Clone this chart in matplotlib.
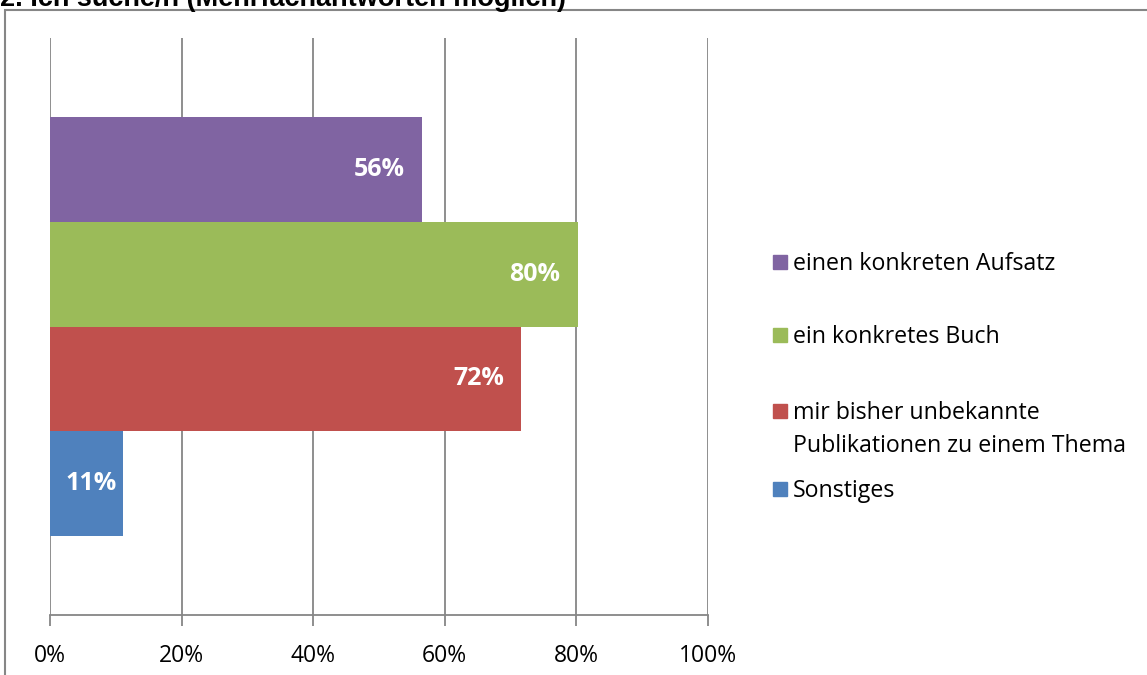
import matplotlib.pyplot as plt
from matplotlib.patches import Rectangle

plt.switch_backend('agg')

# series, top to bottom as drawn
series = ['einen konkreten Aufsatz', 'ein konkretes Buch',
          'mir bisher unbekannte\nPublikationen zu einem Thema', 'Sonstiges']
values = [56.5, 80.2, 71.6, 11.1]
labels = ['56%', '80%', '72%', '11%']
colors = ['#8064A2', '#9BBB59', '#C0504D', '#4F81BD']
ticks = [0, 20, 40, 60, 80, 100]
tick_labels = ['0%', '20%', '40%', '60%', '80%', '100%']

title = '2. Ich suche/n (Mehrfachantworten möglich)'

W, H = 1147, 675
fig = plt.figure(figsize=(W / 100, H / 100), dpi=100)
fig.patch.set_facecolor('white')

# chart area border (runs off right/bottom)
fig.patches.append(Rectangle((5 / W, -0.1), 1.2, 1 - 10 / H + 0.1,
                             transform=fig.transFigure, fill=False,
                             edgecolor='#868686', linewidth=1.5))

# title, cut by the top edge like in the original
fig.text(0, 1 - 6 / H, title, fontsize=19.5, fontweight='bold',
         family='Liberation Sans', va='baseline', ha='left')

ax = fig.add_axes([50 / W, 1 - 615 / H, 658 / W, 577 / H])

n = len(values)
# one category, Excel gap width 150%
ypos = [n / 2 - 0.5 - i for i in range(n)]
ax.barh(ypos, values, height=1.0, color=colors, zorder=3)
ax.set_ylim(-(n / 2) - 0.75, n / 2 + 0.75)
ax.set_xlim(0, 100)

for y, v, lab in zip(ypos, values, labels):
    # short bars get a smaller padding (label barely fits)
    pad = 2.6 if v > 20 else 0.9
    ax.text(v - pad, y, lab, color='white', fontweight='bold', fontsize=18,
            family='Open Sans', ha='right', va='center', zorder=4)

ax.set_xticks(ticks)
ax.set_xticklabels(tick_labels, fontsize=16.5, family='Open Sans')
ax.set_yticks([])
ax.grid(axis='x', color='#868686', linewidth=1.3, zorder=0)
for s in ['top', 'right', 'left']:
    ax.spines[s].set_visible(False)
ax.spines['bottom'].set_color('#868686')
ax.spines['bottom'].set_linewidth(1.3)
ax.tick_params(axis='x', length=8, width=1.3, color='#868686', pad=13)

# legend drawn by hand to copy Excel's spacing
leg_y = [262, 335, 411, 489]
for name, c, y in zip(series, colors, leg_y):
    fig.patches.append(Rectangle((773 / W, 1 - (y + 7) / H), 14 / W, 14 / H,
                                 transform=fig.transFigure, color=c))
    fig.text(793 / W, 1 - (y - 10) / H, name, fontsize=16.7,
             family='Open Sans', va='top', ha='left', linespacing=1.5)

fig.savefig('out.png', dpi=100)
